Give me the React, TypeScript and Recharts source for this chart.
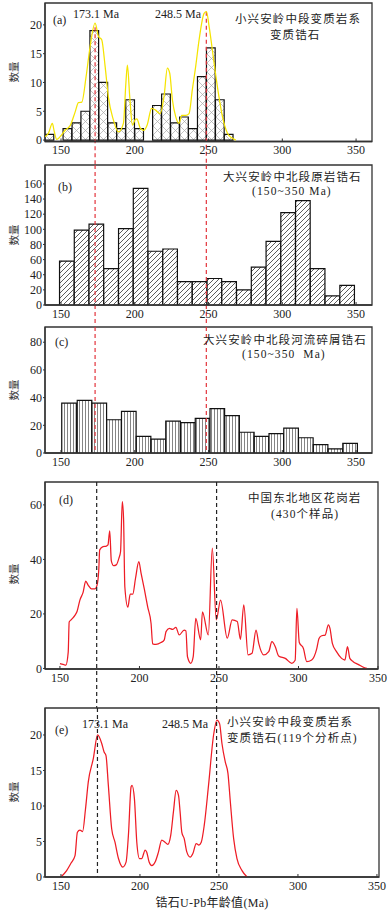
import type { ReactNode } from "react";
import {
  Bar,
  ComposedChart,
  Line,
  ReferenceArea,
  ReferenceLine,
  XAxis,
  YAxis,
} from "recharts";

const FONT = "'Liberation Serif', 'Noto Sans CJK SC', serif";
const INK = "#222";
const AXIS = "#333";
const RED_DASH = "#e3343c";
const W = 391;
const Y_W = 1;
const X_H = 1;

const AGE_TICKS = [150, 200, 250, 300, 350];
const PEAK_AGES = [173.1, 248.5];

// (a) 小兴安岭中段变质锆石: ~6 Ma bins + yellow density curve
const aBinAges = [
  142.2, 148.3, 154.4, 160.5, 166.5, 172.6, 178.7, 184.8, 190.8, 196.9, 203.0,
  209.1, 215.1, 221.2, 227.3, 233.4, 239.4, 245.5, 251.6, 257.7, 263.7,
];
const aBinCounts = [1, 0, 2, 3, 5, 19, 10, 3, 2, 7, 2, 0, 6, 8, 3, 4, 2, 11, 16, 7, 1];
const aCurveAges = [
  139.2, 141.5, 144.1, 145.5, 147.1, 149.4, 152.8, 156.2, 159.6, 161.8, 164.1,
  167, 169.7, 173.1, 175.4, 177.6, 179.9, 182.1, 185.5, 188.9, 192.3, 194, 195,
  196.6, 198.4, 200.2, 201.4, 203.9, 206.2, 208.4, 211.4, 214.1, 217.1, 219.8,
  222.1, 223.7, 225.5, 227.7, 230, 231.8, 234.5, 236.8, 239, 241.3, 243.6, 247,
  248.6, 250.4, 253.8, 256.7, 259.4, 262.8, 266.2, 268.5,
];
const aCurveValues = [
  0.6, 1.2, 2.9, 1.4, 0.1, 0.6, 1.7, 2.5, 4.9, 6.5, 6.6, 11, 16.2, 20.3, 18,
  17.4, 12.8, 7.5, 3.5, 1.4, 2.9, 10, 13, 7.5, 2.6, 3.5, 3.7, 2, 1.7, 2.6, 5.5,
  5.2, 4.6, 7.5, 12.5, 11.6, 7, 4.1, 2.9, 4.3, 4.3, 4.6, 8.7, 12.8, 17.4, 22,
  22.3, 19.7, 13.3, 8.1, 4.1, 1.2, 0.3, 0,
];
const aYTicks = [0, 5, 10, 15, 20];

// (b) 大兴安岭中北段原岩锆石, 10 Ma bins
const bBinAges = [
  154, 164, 174, 184, 194, 204, 214, 224, 234, 244, 254, 264, 274, 284, 294,
  304, 314, 324, 334, 344,
];
const bBinCounts = [
  58, 99, 107, 48, 101, 154, 71, 74, 31, 31, 35, 31, 20, 50, 84, 122, 138, 48,
  12, 26,
];
const bYTicks = [0, 20, 40, 60, 80, 100, 120, 140, 160];

// (c) 大兴安岭中北段河流碎屑锆石, 10 Ma bins
const cBinAges = [
  155.5, 166, 176, 186, 196, 206, 216, 226, 236, 246, 256, 266, 276, 286, 296,
  306, 316, 326, 336, 346,
];
const cBinCounts = [36, 38, 36, 24, 30, 12, 10, 23, 22, 25, 32, 27, 15, 12, 14, 18, 11, 6, 3, 7];
const cYTicks = [0, 20, 40, 60, 80];

// (d) 中国东北地区花岗岩 (430个样品)
const dCurveAges = [
  150, 152, 153.7, 155.2, 155.8, 157.3, 159.4, 160.8, 162.5, 164.6, 166.2,
  167.7, 169.8, 171.9, 173.3, 174.4, 175, 177.1, 179.2, 180.2, 181.3, 182.3,
  183.8, 185.4, 187.1, 188.1, 189.2, 190, 190.8, 192.7, 194.2, 195.8, 197.5,
  199.6, 201, 203.1, 205.2, 207.3, 208.3, 210.4, 213.5, 215.6, 216.7, 218.8,
  220.8, 222.9, 225, 228.1, 229.2, 230.2, 232.3, 233.8, 235.4, 238.5, 239.6,
  243.3, 245.8, 248.3, 251, 255.2, 258.3, 261.5, 263.5, 265.6, 268.3, 270.8,
  273.3, 275, 278.1, 281.3, 283.3, 285.4, 287.5, 291.7, 295.8, 297.9, 299,
  300.5, 303.1, 305.2, 308.3, 311.5, 312.9, 314.6, 316.7, 318.8, 319.8, 321.3,
  324, 327.1, 329.2, 330.8, 332.3, 334.4, 337.5, 341.7, 343,
];
const dCurveValues = [
  1.8, 1.5, 1.2, 6, 17, 18, 19.5, 21, 25, 28, 32, 30.6, 29.2, 29.2, 30.5, 36,
  43.5, 44.7, 44.9, 45.3, 50.5, 39.5, 37.7, 38, 40.5, 42.8, 61.2, 55, 30, 22.5,
  27.3, 27.3, 33, 39.2, 35, 29, 22.5, 16.5, 9, 8.8, 9.5, 10.5, 13.5, 14.7, 14.3,
  15.1, 12.3, 14.1, 13.8, 4.3, 1.9, 4.3, 18.4, 10.5, 20.8, 12.3, 44.1, 17.8,
  25.1, 11.1, 17.8, 17.2, 10.7, 23.3, 5, 5.6, 14.1, 9.2, 5, 6.2, 9.8, 8, 4.6,
  3.7, 1.9, 3, 22, 9.5, 7.3, 2.5, 3.1, 7.3, 11, 12, 12.2, 16, 14.7, 9.2, 6.1,
  3.7, 3.1, 8, 3.7, 2.5, 1.5, 0.2, 0,
];
const dYTicks = [0, 20, 40, 60];

// (e) 小兴安岭中段变质锆石 (119个分析点)
const eCurveAges = [
  150, 153.6, 156.5, 158.9, 160.4, 162, 163.7, 165.5, 167.3, 170.5, 173.2,
  175.8, 177.3, 178.5, 180, 182.1, 184.2, 186.4, 189.1, 191.2, 192.7, 194.4,
  195, 196.5, 198, 199.7, 201.1, 203.3, 204.3, 205.8, 207.5, 209.6, 211.7,
  213.8, 215.9, 217.6, 219.5, 221.2, 222.9, 224.4, 225.4, 226.5, 228, 229.7,
  231.8, 233.5, 235.6, 237.3, 238.8, 240.7, 243.4, 246.6, 248.7, 250.4, 251.9,
  254, 255.7, 257.2, 259.3, 261.4, 264.6, 267.8,
];
const eCurveValues = [
  0, 0.9, 2, 3, 6.3, 6.6, 6.4, 9.5, 13.4, 16.7, 20, 18.8, 17.6, 17.1, 12.9, 6.8,
  4.9, 2.6, 1.4, 2.1, 5.9, 12.7, 12.9, 11, 4.9, 2.6, 2.6, 3.8, 3.5, 2.1, 1.6,
  2.1, 3.5, 5.2, 4.9, 4.6, 5.9, 9.2, 12.2, 11.5, 9.2, 6.3, 5.4, 3.5, 2.8, 3.3,
  4.7, 4.5, 4.9, 7.3, 12.9, 20, 22.1, 21.6, 18.8, 16.2, 14.6, 10.6, 5.4, 2.6,
  0.9, 0,
];
const eYTicks = [0, 5, 10, 15, 20];

type BarRow = { age: number; count: number };
type CurveRow = { age: number; value: number };

const toBars = (ages: number[], counts: number[]): BarRow[] =>
  ages.map((age, i) => ({ age, count: counts[i] }));
const toCurve = (ages: number[], values: number[]): CurveRow[] =>
  ages.map((age, i) => ({ age, value: values[i] }));

interface PanelProps {
  top: number;
  height: number;
  box: { left: number; right: number; top: number; bottom: number };
  xDomain: [number, number];
  yDomain: [number, number];
  yTicks: number[];
  refColor: string;
  refSpans: [number, number][];
  bars?: BarRow[];
  barSize?: number;
  barFill?: string;
  curve?: CurveRow[];
  curveColor?: string;
  defs?: ReactNode;
}

const tickStyle = { fontSize: 12, fill: INK, fontFamily: FONT };

function Panel(p: PanelProps) {
  const margin = {
    top: p.box.top - p.top,
    left: p.box.left - Y_W,
    right: W - p.box.right,
    bottom: p.top + p.height - p.box.bottom - X_H,
  };

  const xAxis = (show: boolean) => (
    <XAxis
      dataKey="age"
      type="number"
      domain={p.xDomain}
      allowDataOverflow
      ticks={AGE_TICKS}
      interval={0}
      height={X_H}
      tickSize={-3}
      tickMargin={7}
      tick={show ? tickStyle : false}
      tickLine={show ? { stroke: AXIS } : false}
      axisLine={show ? { stroke: AXIS, strokeWidth: 1.3 } : false}
    />
  );
  const yAxis = (show: boolean) => (
    <YAxis
      type="number"
      domain={p.yDomain}
      allowDataOverflow
      ticks={p.yTicks}
      interval={0}
      width={Y_W}
      tickSize={2}
      tickMargin={1}
      tick={show ? tickStyle : false}
      tickLine={show ? { stroke: AXIS } : false}
      axisLine={show ? { stroke: AXIS, strokeWidth: 1.3 } : false}
    />
  );
  const curveLine = p.curve ? (
    <Line
      dataKey="value"
      type="monotone"
      stroke={p.curveColor}
      strokeWidth={1.25}
      dot={false}
      activeDot={false}
      isAnimationActive={false}
    />
  ) : null;

  return (
    <div style={{ position: "absolute", left: 0, top: p.top, width: W, height: p.height }}>
      <ComposedChart width={W} height={p.height} data={p.bars ?? p.curve} margin={margin}>
        {p.defs}
        {xAxis(true)}
        {yAxis(true)}
        {p.bars ? (
          <Bar
            dataKey="count"
            barSize={p.barSize}
            fill={p.barFill}
            stroke="#111"
            strokeWidth={1.2}
            isAnimationActive={false}
          />
        ) : (
          curveLine
        )}
        <ReferenceArea
          x1={p.xDomain[0]}
          x2={p.xDomain[1]}
          y1={p.yDomain[0]}
          y2={p.yDomain[1]}
          fill="none"
          stroke={AXIS}
          strokeWidth={1.3}
          ifOverflow="visible"
        />
        {PEAK_AGES.map((age, i) => (
          <ReferenceLine
            key={age}
            segment={[
              { x: age, y: p.refSpans[i][0] },
              { x: age, y: p.refSpans[i][1] },
            ]}
            stroke={p.refColor}
            strokeWidth={1.2}
            strokeDasharray="4 3"
            ifOverflow="visible"
          />
        ))}
      </ComposedChart>
      {p.bars && p.curve && (
        <div style={{ position: "absolute", left: 0, top: 0 }}>
          <ComposedChart width={W} height={p.height} data={p.curve} margin={margin}>
            {xAxis(false)}
            {yAxis(false)}
            {curveLine}
          </ComposedChart>
        </div>
      )}
    </div>
  );
}

// two-line note drawn as one text element
function Note({ lines }: { lines: { x: number; y: number; text: string }[] }) {
  return (
    <text
      style={{
        fontFamily: FONT,
        fontSize: 11.5,
        fill: INK,
        letterSpacing: 1.1,
        whiteSpace: "pre",
      }}
    >
      {lines.map((l) => (
        <tspan key={l.text} x={l.x} y={l.y}>
          {l.text}
        </tspan>
      ))}
    </text>
  );
}

function Annotations() {
  const t = { fontFamily: FONT, fontSize: 12, fill: INK };
  const yTitle = (cy: number) => (
    <text
      x={14}
      y={cy}
      transform={`rotate(-90, 14, ${cy})`}
      textAnchor="middle"
      dominantBaseline="central"
      style={{ ...t, fontSize: 10.5, fill: "#333" }}
    >
      数量
    </text>
  );
  return (
    <svg
      width={W}
      height={915}
      style={{ position: "absolute", left: 0, top: 0, pointerEvents: "none" }}
    >
      {/* (a) */}
      <text x={53} y={24} style={t}>(a)</text>
      <text x={73} y={18} style={t}>173.1 Ma</text>
      <text x={155} y={18} style={t}>248.5 Ma</text>
      <Note
        lines={[
          { x: 235, y: 22.5, text: "小兴安岭中段变质岩系" },
          { x: 270, y: 39.3, text: "变质锆石" },
        ]}
      />
      {yTitle(72)}

      {/* (b) */}
      <text x={58} y={191} style={t}>(b)</text>
      <Note
        lines={[
          { x: 223, y: 181, text: "大兴安岭中北段原岩锆石" },
          { x: 252, y: 195.2, text: "(150~350 Ma)" },
        ]}
      />
      {yTitle(235)}

      {/* (c) */}
      <text x={55} y={346} style={t}>(c)</text>
      <Note
        lines={[
          { x: 203, y: 344, text: "大兴安岭中北段河流碎屑锆石" },
          { x: 242, y: 358.2, text: "(150~350  Ma)" },
        ]}
      />
      {yTitle(390)}

      {/* (d) */}
      <text x={59} y={504} style={t}>(d)</text>
      <Note
        lines={[
          { x: 248, y: 501.5, text: "中国东北地区花岗岩" },
          { x: 271, y: 518.3, text: "(430个样品)" },
        ]}
      />
      {yTitle(574)}

      {/* (e) */}
      <text x={55} y={734} style={t}>(e)</text>
      <text x={82} y={728} style={t}>173.1 Ma</text>
      <text x={162} y={728} style={t}>248.5 Ma</text>
      <Note
        lines={[
          { x: 227, y: 725.5, text: "小兴安岭中段变质岩系" },
          { x: 227, y: 742.3, text: "变质锆石(119个分析点)" },
        ]}
      />
      {yTitle(792)}

      <text x={212} y={907} textAnchor="middle" style={{ ...t, letterSpacing: 0.3 }}>
        锆石U-Pb年龄值(Ma)
      </text>
    </svg>
  );
}

export default function App() {
  return (
    <div
      style={{
        position: "absolute",
        left: 0,
        top: 0,
        width: W,
        height: 915,
        background: "#fff",
        overflow: "hidden",
      }}
    >
      <Panel
        top={0}
        height={165}
        box={{ left: 45, right: 372, top: 3, bottom: 141.5 }}
        xDomain={[139.15, 360.8]}
        yDomain={[-0.25, 23.8]}
        yTicks={aYTicks}
        refColor={RED_DASH}
        refSpans={[
          [19.6, -4.4],
          [22.3, -4.4],
        ]}
        bars={toBars(aBinAges, aBinCounts)}
        barSize={8.7}
        barFill="url(#hatchCross)"
        curve={toCurve(aCurveAges, aCurveValues)}
        curveColor="#f5e400"
        defs={
          <defs>
            <pattern id="hatchCross" width="9" height="9" patternUnits="userSpaceOnUse">
              <rect width="9" height="9" fill="#fff" />
              <path d="M0,0 L9,9 M9,0 L0,9" stroke="#a8a8a8" strokeWidth="0.7" />
            </pattern>
          </defs>
        }
      />
      <Panel
        top={163}
        height={163}
        box={{ left: 45, right: 372, top: 165, bottom: 305 }}
        xDomain={[139.15, 360.8]}
        yDomain={[0, 185]}
        yTicks={bYTicks}
        refColor={RED_DASH}
        refSpans={[
          [185, -28],
          [185, -28],
        ]}
        bars={toBars(bBinAges, bBinCounts)}
        barSize={14.6}
        barFill="url(#hatchDiag)"
        defs={
          <defs>
            <pattern id="hatchDiag" width="5" height="5" patternUnits="userSpaceOnUse">
              <rect width="5" height="5" fill="#fff" />
              <path d="M-1,1 L1,-1 M0,5 L5,0 M4,6 L6,4" stroke="#333" strokeWidth="0.8" />
            </pattern>
          </defs>
        }
      />
      <Panel
        top={326}
        height={149}
        box={{ left: 45, right: 372, top: 327, bottom: 453 }}
        xDomain={[139.15, 360.8]}
        yDomain={[0, 91]}
        yTicks={cYTicks}
        refColor={RED_DASH}
        refSpans={[
          [91, 0],
          [91, 0],
        ]}
        bars={toBars(cBinAges, cBinCounts)}
        barSize={14.6}
        barFill="url(#hatchVert)"
        defs={
          <defs>
            <pattern id="hatchVert" width="3" height="4" patternUnits="userSpaceOnUse">
              <rect width="3" height="4" fill="#fff" />
              <line x1="1.5" y1="0" x2="1.5" y2="4" stroke="#666" strokeWidth="0.8" />
            </pattern>
          </defs>
        }
      />
      <Panel
        top={475}
        height={233}
        box={{ left: 45, right: 378, top: 482, bottom: 669 }}
        xDomain={[140.6, 350]}
        yDomain={[-0.2, 68.4]}
        yTicks={dYTicks}
        refColor="#222"
        refSpans={[
          [68.4, -15],
          [68.4, -15],
        ]}
        curve={toCurve(dCurveAges, dCurveValues)}
        curveColor="#ee1c25"
      />
      <Panel
        top={706}
        height={209}
        box={{ left: 45, right: 379, top: 708, bottom: 877 }}
        xDomain={[139.9, 351.3]}
        yDomain={[0, 23.8]}
        yTicks={eYTicks}
        refColor="#222"
        refSpans={[
          [23.8, 0],
          [23.8, 0],
        ]}
        curve={toCurve(eCurveAges, eCurveValues)}
        curveColor="#ee1c25"
      />
      <Annotations />
    </div>
  );
}
